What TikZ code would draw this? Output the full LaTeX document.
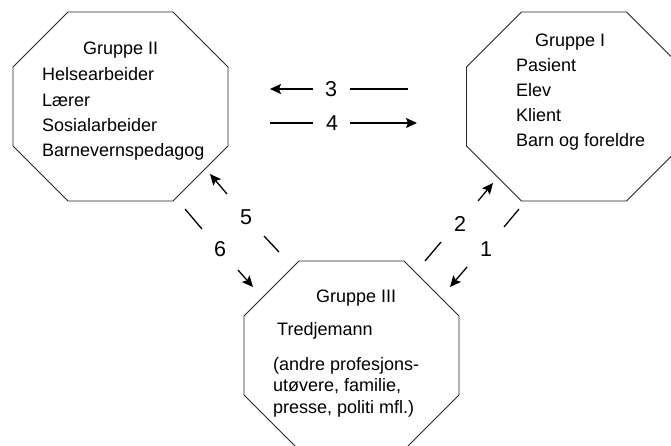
\documentclass[tikz,border=0pt]{standalone}
\usepackage{fontspec}
\setmainfont{Liberation Sans}
\usetikzlibrary{arrows.meta}

\tikzset{
  octline/.style={draw=black!85, line width=0.9pt},
  octa/.pic={
    \draw[octline] (-52.5,-94.5) -- (52.5,-94.5) -- (107.5,-39.5) -- (107.5,39.5)
      -- (52.5,94.5) -- (-52.5,94.5) -- (-107.5,39.5) -- (-107.5,-39.5) -- cycle;
  },
  txt/.style={anchor=base west, inner sep=0pt, font=\fontsize{18}{18}\selectfont},
  num/.style={inner sep=0pt, font=\fontsize{21.5}{21.5}\selectfont},
  seg/.style={line width=1.3pt},
  arr/.style={line width=1.3pt, -{Stealth[length=11pt, width=10pt, inset=2pt]}},
}

\begin{document}
\begin{tikzpicture}[x=1pt, y=-1pt]
\useasboundingbox (0,0) rectangle (671,445);
\fill[white] (0,0) rectangle (671,445);

% the three group octagons, cut at the page edge
\begin{scope}
  \clip (0,0) rectangle (671,445);
  \pic at (120.5,106.5) {octa};
  \pic at (574,106.5) {octa};
  \pic at (351.5,355.5) {octa};
\end{scope}

% Gruppe II
\node[txt] (g2) at (83,54) {Gruppe II};
\node[txt] (g2a) at (42,80) {Helsearbeider};
\node[txt] (g2b) at (42,106) {Lærer};
\node[txt] (g2c) at (42,131) {Sosialarbeider};
\node[txt] (g2d) at (42,156) {Barnevernspedagog};

% Gruppe I
\node[txt] (g1) at (535,46) {Gruppe I};
\node[txt] (g1a) at (516,71) {Pasient};
\node[txt] (g1b) at (516,96) {Elev};
\node[txt] (g1c) at (516,121) {Klient};
\node[txt] (g1d) at (516,146) {Barn og foreldre};

% Gruppe III
\node[txt] (g3) at (316,302) {Gruppe III};
\node[txt] (g3a) at (277,335) {Tredjemann};
\node[txt] (g3b) at (273,370) {(andre profesjons-};
\node[txt] (g3c) at (273,391.5) {utøvere, familie,};
\node[txt] (g3d) at (273,413) {presse, politi mfl.)};

% numbered relations
\node[num] (n3) at (331,89) {3};
\node[num] (n4) at (332,123) {4};
\node[num] (n5) at (246,217) {5};
\node[num] (n6) at (220,249) {6};
\node[num] (n2) at (460,224) {2};
\node[num] (n1) at (486,249) {1};

% end points of the broken arrows
\coordinate (a3s) at (313,89);  \coordinate (a3e) at (270,89);
\coordinate (b3s) at (350,89);  \coordinate (b3e) at (408,89);
\coordinate (b4s) at (270,123); \coordinate (b4e) at (313,123);
\coordinate (a4s) at (350,123); \coordinate (a4e) at (417,123);
\coordinate (a5s) at (227,194); \coordinate (a5e) at (210,174);
\coordinate (b5s) at (264,236); \coordinate (b5e) at (279,252);
\coordinate (b6s) at (185,209); \coordinate (b6e) at (202,229);
\coordinate (a6s) at (238,270); \coordinate (a6e) at (253,287);
\coordinate (b2s) at (425,261); \coordinate (b2e) at (441,242);
\coordinate (a2s) at (478,201); \coordinate (a2e) at (493,183);
\coordinate (b1s) at (519,209); \coordinate (b1e) at (504,227);
\coordinate (a1s) at (467,267); \coordinate (a1e) at (450,287);

\draw[arr] (a3s) -- (a3e);
\draw[seg] (b3s) -- (b3e);
\draw[seg] (b4s) -- (b4e);
\draw[arr] (a4s) -- (a4e);
\draw[arr] (a5s) -- (a5e);
\draw[seg] (b5s) -- (b5e);
\draw[seg] (b6s) -- (b6e);
\draw[arr] (a6s) -- (a6e);
\draw[seg] (b2s) -- (b2e);
\draw[arr] (a2s) -- (a2e);
\draw[seg] (b1s) -- (b1e);
\draw[arr] (a1s) -- (a1e);
\end{tikzpicture}
\end{document}
